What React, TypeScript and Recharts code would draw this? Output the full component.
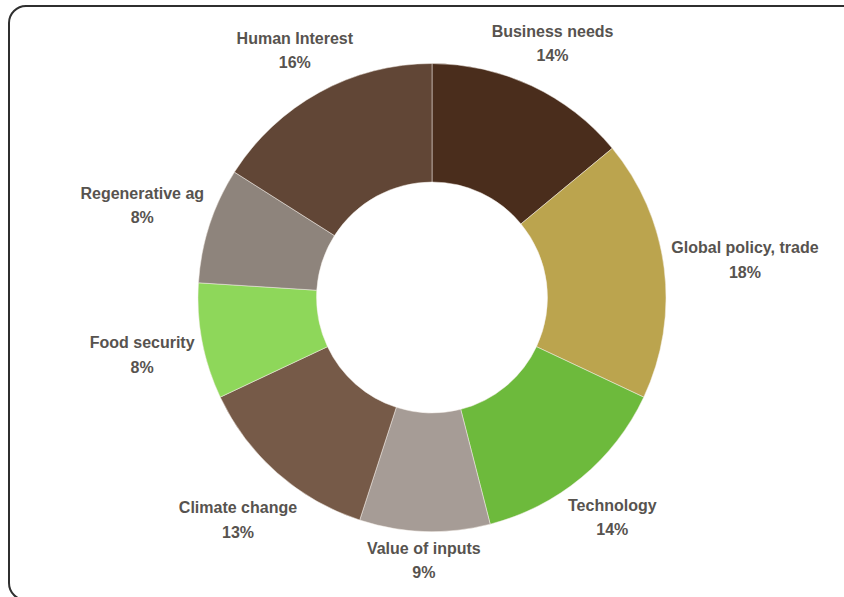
import { Cell, Pie, PieChart } from "recharts";

const topics = [
  "Business needs",
  "Global policy, trade",
  "Technology",
  "Value of inputs",
  "Climate change",
  "Food security",
  "Regenerative ag",
  "Human Interest",
];
const shares = [14, 18, 14, 9, 13, 8, 8, 16];
const sliceColors = ["#4a2d1c", "#bba44e", "#6dba3c", "#a69c96", "#765a48", "#8ed75a", "#8e847c", "#614636"];

const data = topics.map((name, i) => ({ name, value: shares[i] }));

const LABEL_FONT = "bold 16px 'Liberation Sans', Arial, sans-serif";
const RADIAN = Math.PI / 180;

let measureCtx: CanvasRenderingContext2D | null = null;
function textWidth(text: string) {
  if (!measureCtx) measureCtx = document.createElement("canvas").getContext("2d");
  if (!measureCtx) return text.length * 8.5;
  measureCtx.font = LABEL_FONT;
  return measureCtx.measureText(text).width;
}

function OutsideLabel(props: any) {
  const { cx, cy, midAngle, outerRadius, name, value } = props;
  const cos = Math.cos(-midAngle * RADIAN);
  const sin = Math.sin(-midAngle * RADIAN);
  const halfW = textWidth(name) / 2;
  const halfH = 19;
  const r = outerRadius + 6 + halfW * Math.abs(cos) + halfH * Math.abs(sin);
  const x = cx + r * cos;
  // labels sit a touch lower than the geometric spot
  const y = cy + r * sin + 2;
  return (
    <g style={{ font: LABEL_FONT }} fill="#57534f">
      <text x={x} y={y - 12} textAnchor="middle" dominantBaseline="central">
        {name}
      </text>
      <text x={x} y={y + 12.5} textAnchor="middle" dominantBaseline="central">
        {value}%
      </text>
    </g>
  );
}

export default function App() {
  return (
    <div style={{ position: "fixed", left: 0, top: 0, width: 844, height: 597, overflow: "hidden", background: "#fff" }}>
      <div
        style={{
          position: "absolute",
          left: 8,
          top: 5,
          width: 1000,
          height: 596,
          boxSizing: "border-box",
          border: "2px solid #2f2f2f",
          borderRadius: 18,
        }}
      />
      <div style={{ position: "absolute", left: 0, top: 0 }}>
        <PieChart width={844} height={597} margin={{ top: 0, right: 0, bottom: 0, left: 0 }}>
          <Pie
            data={data}
            dataKey="value"
            nameKey="name"
            cx={432}
            cy={297.5}
            innerRadius={115.5}
            outerRadius={234}
            startAngle={90}
            endAngle={-270}
            stroke="#f4efe9"
            strokeWidth={0.5}
            label={OutsideLabel}
            labelLine={false}
            isAnimationActive={false}
          >
            {data.map((d, i) => (
              <Cell key={d.name} fill={sliceColors[i]} />
            ))}
          </Pie>
        </PieChart>
      </div>
    </div>
  );
}
